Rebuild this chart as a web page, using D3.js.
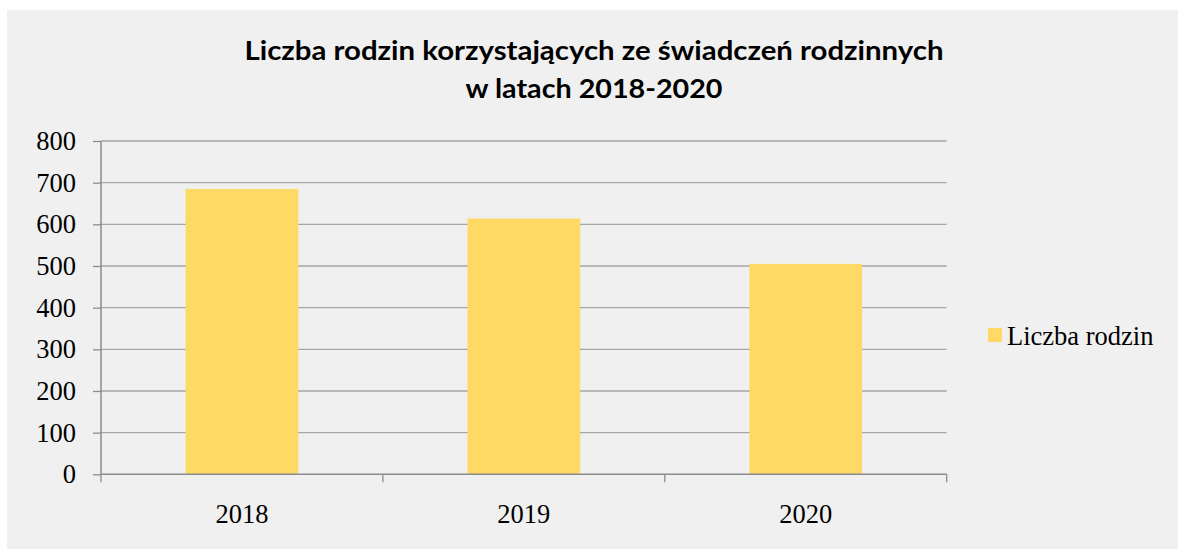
<!DOCTYPE html>
<html><head><meta charset="utf-8">
<script src="https://cdn.jsdelivr.net/npm/d3@7"></script>
<style>body{margin:0;background:#fff}svg{display:block}</style>
</head><body>
<svg id="c" width="1178" height="549"></svg>
<script>
const categories = ["2018", "2019", "2020"];
const values = [685, 614, 505];
const yTicks = [0, 100, 200, 300, 400, 500, 600, 700, 800];
const seriesName = "Liczba rodzin";
const titleLines = ["Liczba rodzin korzystających ze świadczeń rodzinnych", "w latach 2018-2020"];

const svg = d3.select("#c");
svg.append("rect").attr("x", 7).attr("y", 10).attr("width", 1171).attr("height", 539).attr("fill", "#f0f0f0");

const L = 101, R = 946.7, T = 141, B = 474.3;
const x = d3.scaleBand().domain(categories).range([L, R]).paddingInner(0.6).paddingOuter(0.3);
const y = d3.scaleLinear().domain([0, 800]).range([B, T]);
const serif = "Liberation Serif, Times New Roman, serif";

// gridlines
svg.append("g").selectAll("line").data(yTicks.filter(d => d > 0)).join("line")
  .attr("x1", L).attr("x2", R).attr("y1", d => y(d)).attr("y2", d => y(d))
  .attr("stroke", "#a6a6a6").attr("stroke-width", 1.3);

// bars
svg.append("g").selectAll("rect").data(values).join("rect")
  .attr("x", (d, i) => x(categories[i])).attr("width", x.bandwidth())
  .attr("y", d => y(d)).attr("height", d => y(0) - y(d))
  .attr("fill", "#ffd966");

// y axis
const ya = svg.append("g").attr("transform", `translate(${L},0)`)
  .call(d3.axisLeft(y).tickValues(yTicks).tickSize(8).tickPadding(17).tickFormat(d3.format("d")));
ya.select(".domain").attr("stroke", "#8c8c8c").attr("stroke-width", 1.5).attr("d", `M0,${T}V${B}`);
ya.selectAll(".tick line").attr("stroke", "#8c8c8c").attr("stroke-width", 1.3);
ya.selectAll(".tick text").attr("font-family", serif).attr("font-size", 26.5).attr("fill", "#000");

// x axis
const xa = svg.append("g").attr("transform", `translate(0,${B})`)
  .call(d3.axisBottom(x).tickSize(0).tickPadding(29.5));
xa.select(".domain").attr("stroke", "#8c8c8c").attr("stroke-width", 1.5).attr("d", `M${L},0H${R}`);
xa.selectAll(".tick text").attr("font-family", serif).attr("font-size", 26.5).attr("fill", "#000");
const bounds = d3.range(categories.length + 1).map(i => L + i * (R - L) / categories.length);
xa.append("g").selectAll("line").data(bounds).join("line")
  .attr("x1", d => d).attr("x2", d => d).attr("y1", 0).attr("y2", 8)
  .attr("stroke", "#8c8c8c").attr("stroke-width", 1.3);

// title
const tw = [699, 257];
const tb = [60, 98];
titleLines.forEach((t, i) => {
  svg.append("text").attr("x", 594).attr("y", tb[i]).attr("text-anchor", "middle")
    .attr("font-family", "Lato, Open Sans, sans-serif").attr("font-weight", "bold").attr("font-size", 26.5)
    .attr("textLength", tw[i]).attr("lengthAdjust", "spacingAndGlyphs")
    .attr("fill", "#000").text(t);
});

// legend
svg.append("rect").attr("x", 988).attr("y", 328).attr("width", 14).attr("height", 14).attr("fill", "#ffd966");
svg.append("text").attr("x", 1007).attr("y", 345).attr("font-family", serif)
  .attr("font-size", 26.5).attr("fill", "#000").text(seriesName);
</script>
</body></html>
